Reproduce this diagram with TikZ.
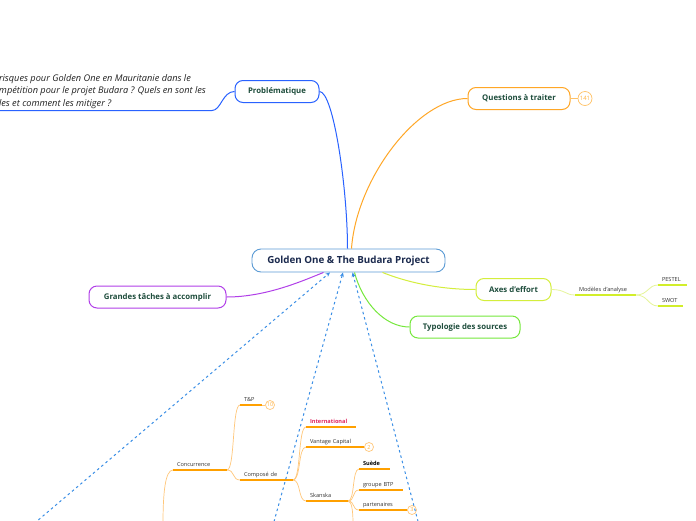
\documentclass[tikz,border=0pt]{standalone}
\usepackage{fontspec}
\setmainfont{Open Sans}
\usetikzlibrary{arrows.meta}
\hyphenpenalty=10000
\exhyphenpenalty=10000

\definecolor{centreblue}{HTML}{5B9BD5}
\definecolor{centretext}{HTML}{1B2A4E}
\definecolor{labelgreen}{HTML}{1E4D3C}
\definecolor{bodytext}{HTML}{222222}
\definecolor{leaftext}{HTML}{333333}
\definecolor{probblue}{HTML}{2962FF}
\definecolor{questorange}{HTML}{FFA726}
\definecolor{questpale}{HTML}{FFC266}
\definecolor{badgetext}{HTML}{FFB340}
\definecolor{axeslime}{HTML}{D4EE3C}
\definecolor{limedeep}{HTML}{D2EE2A}
\definecolor{limepale}{HTML}{E6F59A}
\definecolor{typogreen}{HTML}{76E83C}
\definecolor{grandpurple}{HTML}{B13FE8}
\definecolor{relblue}{HTML}{3A8EE6}
\definecolor{treeorange}{HTML}{FFA000}
\definecolor{twigorange}{HTML}{FFC77A}
\definecolor{intlred}{HTML}{E0245E}

\begin{document}
\begin{tikzpicture}
[
	x=1pt,
	y=-1pt,
	central/.style={draw=centreblue, line width=0.9pt, rounded corners=9pt, minimum width=193pt, minimum height=23pt, inner sep=0pt, fill=white, font=\fontsize{9.8}{11}\selectfont\bfseries, text=centretext},
	topic/.style={draw, line width=1pt, rounded corners=8pt, minimum height=22pt, inner sep=0pt, fill=white, font=\fontsize{7.8}{9}\selectfont\bfseries, text=labelgreen},
	leaf/.style={anchor=south west, outer sep=0pt, inner xsep=4pt, inner ysep=2.5pt, text depth=1.5pt, text width=#1, align=left, font=\fontsize{5.6}{6.5}\selectfont, text=leaftext},
	underl/.style={line width=1.6pt, treeorange},
	twig/.style={line width=0.7pt, twigorange},
	badge/.style={circle, draw=twigorange, line width=0.7pt, text=badgetext, fill=white, inner sep=0pt, minimum size=9pt, font=\fontsize{5.5}{6}\selectfont},
	relation/.style={relblue, line width=1pt, dash pattern=on 2.5pt off 3pt, -{Stealth[length=4.5pt,width=4pt]}}
]

	\useasboundingbox (0,0) rectangle (696,520);
	\fill[white] (0,0) rectangle (696,520);

	% main topics
	\node[topic, draw=probblue, minimum width=84pt] (prob) at (277,91.5) {Problématique};
	\node[topic, draw=questorange, minimum width=102pt] (quest) at (519,98.5) {Questions à traiter};
	\node[topic, draw=axeslime, minimum width=75pt] (axes) at (513.5,289.5) {Axes d'effort};
	\node[topic, draw=typogreen, minimum width=110pt] (typo) at (465,327) {Typologie des sources};
	\node[topic, draw=grandpurple, minimum width=137pt] (grand) at (157.5,297) {Grandes tâches à accomplir};
	\node[central] (centre) at (348.5,260.5) {Golden One \& The Budara Project};

	% links to the centre
	\draw[probblue, line width=1pt] (prob.east) .. controls +(14,0) and +(0,-60) .. ([xshift=-1pt]centre.north);
	\draw[questorange, line width=1pt] ([xshift=3pt]centre.north) .. controls +(5,-70) and +(-50,0) .. (quest.west);
	\draw[grandpurple, line width=1pt] (grand.east) .. controls +(40,0) and +(-20,8) .. ([xshift=-25pt]centre.south);
	\draw[typogreen, line width=1pt] ([xshift=6pt]centre.south) .. controls +(8,30) and +(-25,0) .. (typo.west);
	\draw[axeslime, line width=1pt] ([xshift=34pt]centre.south) .. controls +(30,12) and +(-30,0) .. (axes.west);

	% problem statement
	\node[anchor=south west, outer sep=0pt, inner xsep=0pt, inner ysep=2pt, align=left, font=\fontsize{9.2}{12.3}\selectfont\itshape, text=bodytext] (probtext) at (-1,110.5) {risques pour Golden One en Mauritanie dans le\\\llap{co}mpétition pour le projet Budara ? Quels en sont les\\les et comment les mitiger ?};
	\coordinate (probfoot) at (212,110.5);
	\draw[probblue, line width=1pt] (prob.west) .. controls +(-12,0) and +(9,0) .. (probfoot) -- ([xshift=-3pt]probtext.south west);

	% question count
	\node[badge, draw=questpale, minimum size=14pt, font=\fontsize{6}{6}\selectfont] (qcount) at (585,98.5) {141};
	\draw[questpale, line width=1pt] (quest.east) -- (qcount);

	% analysis models
	\node[leaf=53pt] (models) at (575,295) {Modèles d'analyse};
	\node[leaf=21pt] (pestel) at (658,285) {PESTEL};
	\node[leaf=17pt] (swot) at (658,306) {SWOT};
	\draw[limepale, line width=0.8pt] (axes.east) .. controls +(14,0) and +(-10,0) .. (models.south west);
	\draw[limedeep, line width=1.6pt] (models.south west) -- (models.south east);
	\draw[limepale, line width=0.8pt] (models.south east) .. controls +(12,0) and +(-10,0) .. (pestel.south west);
	\draw[limepale, line width=0.8pt] (models.south east) .. controls +(12,0) and +(-10,0) .. (swot.south west);
	\draw[limedeep, line width=1.6pt] (pestel.south west) -- (pestel.south east);
	\draw[limedeep, line width=1.6pt] (swot.south west) -- (swot.south east);

	% competition tree
	\node[leaf=46pt] (conc) at (173,470) {Concurrence};
	\node[leaf=14pt] (tp) at (240,405) {T\&P};
	\node[leaf=45pt] (compose) at (240,480) {Composé de};
	\node[leaf=42pt, font=\fontsize{5.6}{6.5}\selectfont\bfseries, text=intlred] (intl) at (306,427) {International};
	\node[leaf=50pt] (vantage) at (306,447) {Vantage Capital};
	\node[leaf=34pt] (skanska) at (306,501) {Skanska};
	\node[leaf=23pt, font=\fontsize{5.6}{6.5}\selectfont\bfseries, text=black] (suede) at (359,469) {Suède};
	\node[leaf=36pt] (btp) at (359,490) {groupe BTP};
	\node[leaf=40pt] (partn) at (359,510) {partenaires};
	\node[badge] (tpcount) at (270,405) {10};
	\node[badge] (vcount) at (369,447) {2};
	\node[badge] (pcount) at (412,510) {3};
	\coordinate (concstem) at (163,524);
	\coordinate (skstem) at (353,524);

	\draw[twig] (concstem) .. controls +(0,-30) and +(-8,0) .. (conc.south west);
	\draw[twig] (conc.south east) .. controls +(8,0) and +(-8,0) .. (tp.south west);
	\draw[twig] (conc.south east) .. controls +(8,0) and +(-8,0) .. (compose.south west);
	\draw[twig] (compose.south east) .. controls +(8,0) and +(-8,0) .. (intl.south west);
	\draw[twig] (compose.south east) .. controls +(8,0) and +(-8,0) .. (vantage.south west);
	\draw[twig] (compose.south east) .. controls +(8,0) and +(-8,0) .. (skanska.south west);
	\draw[twig] (skanska.south east) .. controls +(7,0) and +(-7,0) .. (suede.south west);
	\draw[twig] (skanska.south east) .. controls +(7,0) and +(-7,0) .. (btp.south west);
	\draw[twig] (skanska.south east) .. controls +(7,0) and +(-7,0) .. (partn.south west);
	\draw[twig] (skanska.south east) .. controls +(4,0) and +(0,-12) .. (skstem);
	\draw[twig] (tp.south east) -- (tpcount);
	\draw[twig] (vantage.south east) -- (vcount);
	\draw[twig] (partn.south east) -- (pcount);
	\foreach \leafname in {conc,tp,compose,intl,vantage,skanska,suede,btp,partn}
		\draw[underl] (\leafname.south west) -- (\leafname.south east);

	% relationships
	\coordinate (relA) at (30,527);
	\coordinate (relB) at (272.5,527);
	\coordinate (relC) at (419.5,527);
	\draw[relation] (relA) -- ([xshift=-18.5pt]centre.south);
	\draw[relation] (relB) -- ([xshift=-5.5pt]centre.south);
	\draw[relation] (relC) -- ([xshift=4pt]centre.south);

\end{tikzpicture}
\end{document}
